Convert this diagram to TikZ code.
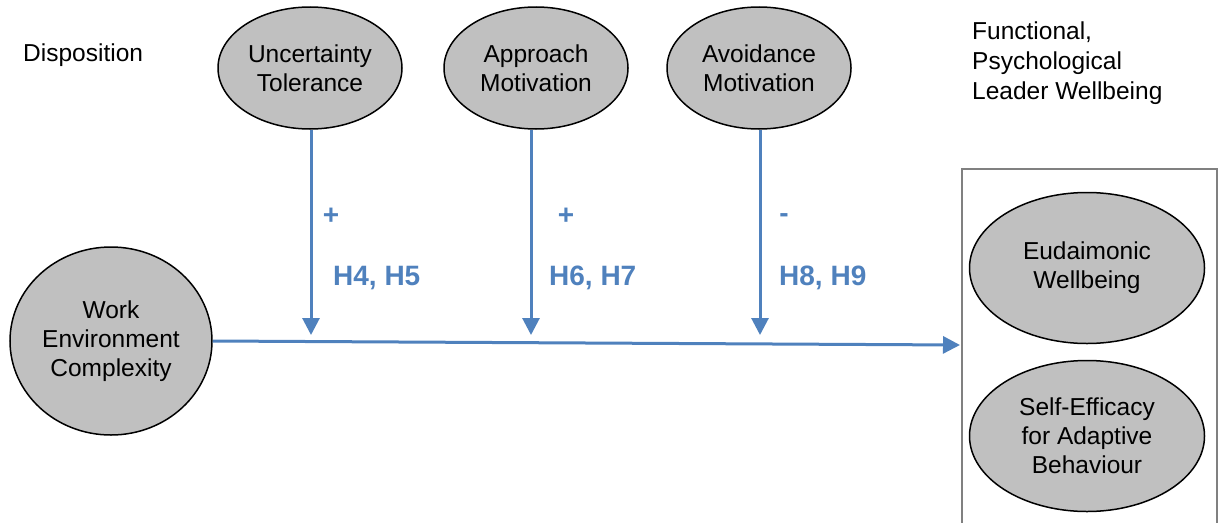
\documentclass[tikz,border=0pt]{standalone}
\usepackage{fontspec}
\setmainfont{Liberation Sans}
\usetikzlibrary{shapes.geometric,arrows.meta}
\definecolor{linkblue}{HTML}{4F81BD}
\definecolor{nodegray}{HTML}{C0C0C0}
\definecolor{framegray}{HTML}{808080}
\begin{document}
\begin{tikzpicture}[x=1pt,y=-1pt,
  construct/.style={ellipse, draw=black, line width=1.5pt, fill=nodegray,
    inner sep=0pt, align=center, font=\fontsize{24.5}{29}\selectfont},
  plainlabel/.style={inner sep=0pt, align=left, font=\fontsize{24.5}{29.8}\selectfont},
  moderation/.style={draw=linkblue, line width=3pt, -{Triangle[width=17pt,length=17pt]}},
  hyp/.style={inner sep=0pt, text=linkblue, font=\fontsize{28}{30}\selectfont\bfseries}
]
\clip (0,0) rectangle (1220,522);

% headings
\node[plainlabel, anchor=base west] (disp) at (23,61) {Disposition};
\node[plainlabel, anchor=north west] (outhead) at (972,21.5)
  {Functional,\\Psychological\\Leader Wellbeing};

% outcome frame (open at the bottom edge of the page)
\node[draw=framegray, line width=2pt, minimum width=255pt, minimum height=380pt,
  anchor=north west, inner sep=0pt] (outcomes) at (961,168) {};

% moderators
\node[construct, minimum width=184pt, minimum height=122pt] (unc) at (310,68)
  {Uncertainty\\Tolerance};
\node[construct, minimum width=184pt, minimum height=122pt] (app) at (536,68)
  {Approach\\Motivation};
\node[construct, minimum width=184pt, minimum height=122pt] (avo) at (759,68)
  {Avoidance\\Motivation};

% predictor
\node[construct, minimum width=202pt, minimum height=188pt] (work) at (111,341)
  {Work\\Environment\\Complexity};

% outcomes
\node[construct, minimum width=235pt, minimum height=151pt] (eud) at (1087,268)
  {Eudaimonic\\Wellbeing};
\node[construct, minimum width=235pt, minimum height=151pt] (eff) at (1087,436)
  {Self-Efficacy\\for Adaptive\\Behaviour};

% arrow end points
\coordinate (tipA) at (311,335);
\coordinate (tipB) at (531,335);
\coordinate (tipC) at (760,335);
\coordinate (tipMain) at (960,345);

% main path and moderating paths
\draw[moderation] (work.east) -- (tipMain);
\draw[moderation] (unc.south -| tipA) -- (tipA);
\draw[moderation] (app.south -| tipB) -- (tipB);
\draw[moderation] (avo.south -| tipC) -- (tipC);

% signs and hypotheses
\node[hyp] (signA) at (331,216) {+};
\node[hyp] (signB) at (566,216) {+};
\node[hyp] (signC) at (784,218) {-};
\node[hyp, anchor=base west] (hypA) at (333,285) {H4, H5};
\node[hyp, anchor=base west] (hypB) at (549,285) {H6, H7};
\node[hyp, anchor=base west] (hypC) at (779,285) {H8, H9};
\end{tikzpicture}
\end{document}
